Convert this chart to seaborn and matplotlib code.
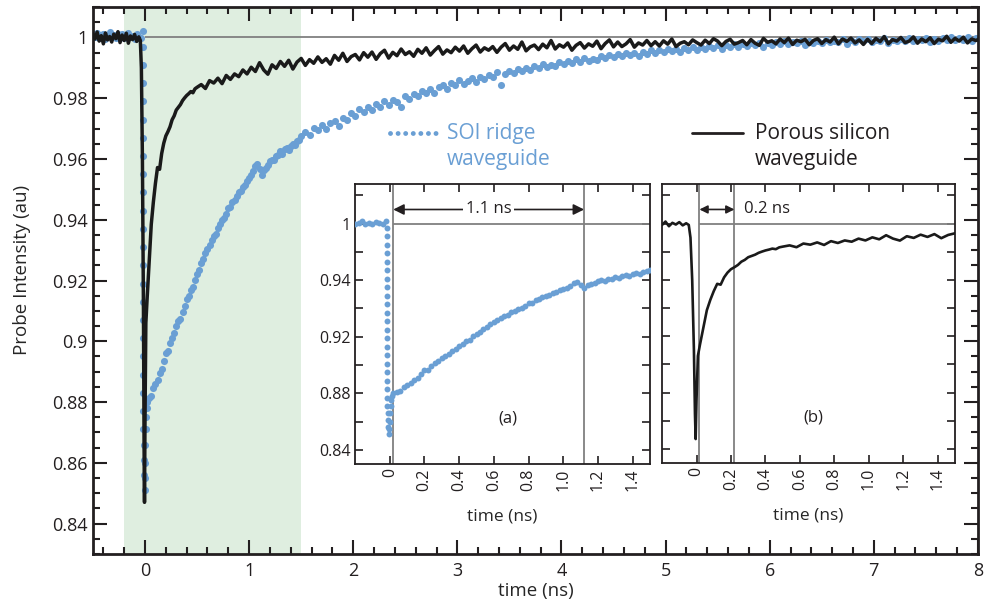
import matplotlib
matplotlib.use("Agg")
import matplotlib.pyplot as plt
import numpy as np
import pandas as pd
import seaborn as sns
from matplotlib.ticker import MultipleLocator, FixedLocator, FixedFormatter, FuncFormatter

BLUE = "#6a9fd4"
INK = "#231f20"
GREY = "#808080"

# ── Porous silicon waveguide (black trace) ─────────────────
# t = -0.50 .. -0.06, step 0.02
ps_pre = [1.0012, 0.9995, 1.0018, 0.9988, 1.0006, 0.9979, 1.0015, 0.9992, 1.0003, 0.9985,
          1.0011, 0.9996, 1.0019, 0.9983, 1.0008, 0.9990, 1.0014, 0.9981, 1.0005, 0.9993,
          1.0010, 0.9987, 1.0002]
ps_dip_t = [-0.045, -0.035, -0.025, -0.015, -0.009, -0.005, 0.0, 0.008]
ps_dip = [0.9990, 0.9900, 0.9600, 0.9100, 0.8650, 0.8470, 0.8750, 0.9060]
# t = 0.02 .. 0.50, step 0.02
ps_fast = [0.9140, 0.9262, 0.9385, 0.9458, 0.9520, 0.9572, 0.9566, 0.9618, 0.9652, 0.9676,
           0.9690, 0.9706, 0.9729, 0.9742, 0.9761, 0.9770, 0.9779, 0.9792, 0.9801, 0.9809,
           0.9815, 0.9822, 0.9818, 0.9831, 0.9836]
# t = 0.54 .. 8.02, step 0.04
ps_slow = [0.9845, 0.9832, 0.9858, 0.9850, 0.9866, 0.9848, 0.9875, 0.9862, 0.9880, 0.9871,
           0.9893, 0.9880, 0.9902, 0.9888, 0.9917, 0.9893, 0.9879, 0.9910, 0.9898, 0.9921,
           0.9905, 0.9925, 0.9896, 0.9919, 0.9931, 0.9908, 0.9927, 0.9915, 0.9936, 0.9918,
           0.9930, 0.9912, 0.9941, 0.9925, 0.9948, 0.9921, 0.9937, 0.9944, 0.9926, 0.9950,
           0.9935, 0.9952, 0.9928, 0.9947, 0.9958, 0.9932, 0.9951, 0.9940, 0.9962, 0.9944,
           0.9953, 0.9938, 0.9961, 0.9948, 0.9966, 0.9942, 0.9957, 0.9970, 0.9945, 0.9959,
           0.9950, 0.9968, 0.9955, 0.9972, 0.9948, 0.9963, 0.9975, 0.9952, 0.9966, 0.9958,
           0.9970, 0.9951, 0.9968, 0.9980, 0.9958, 0.9972, 0.9961, 0.9985, 0.9956, 0.9969,
           0.9975, 0.9960, 0.9978, 0.9966, 0.9990, 0.9962, 0.9976, 0.9968, 0.9982, 0.9958,
           0.9974, 0.9983, 0.9965, 0.9979, 0.9971, 0.9988, 0.9963, 0.9980, 0.9992, 0.9969,
           0.9985, 0.9970, 0.9979, 0.9993, 0.9968, 0.9982, 0.9975, 0.9990, 0.9973, 0.9986,
           0.9972, 0.9989, 0.9978, 0.9995, 0.9970, 0.9981, 0.9986, 0.9976, 0.9992, 0.9983,
           0.9975, 0.9991, 0.9980, 0.9996, 0.9988, 0.9973, 0.9987, 0.9994, 0.9978, 0.9983,
           0.9990, 0.9976, 0.9993, 0.9981, 0.9974, 0.9997, 0.9984, 0.9989, 0.9979, 0.9995,
           0.9983, 0.9998, 0.9977, 0.9991, 0.9986, 0.9994, 0.9976, 0.9990, 0.9996, 0.9980,
           0.9993, 0.9985, 1.0001, 0.9979, 0.9995, 0.9987, 0.9998, 0.9982, 0.9992, 0.9977,
           0.9994, 0.9980, 0.9997, 0.9986, 1.0003, 0.9979, 0.9993, 0.9988, 1.0000, 0.9983,
           0.9988, 1.0002, 0.9981, 0.9995, 0.9986, 0.9999, 0.9980, 0.9994, 0.9989, 1.0004,
           0.9984, 0.9997, 0.9988, 1.0001, 0.9982, 0.9995, 0.9990, 0.9996]

# ── SOI ridge waveguide (blue dots) ────────────────────────
# t = -0.50 .. -0.02, step 0.02
soi_pre = [1.0010, 1.0002, 1.0015, 0.9998, 1.0008, 1.0012, 0.9996, 1.0005, 1.0018, 1.0001,
           1.0009, 0.9997, 1.0013, 1.0004, 1.0011, 0.9999, 1.0007, 1.0016, 1.0000, 1.0006,
           0.9995, 1.0010, 1.0003, 0.9998, 1.0020]
soi_drop_t = [-0.015] * 22 + [-0.012, -0.010, -0.008, -0.005, -0.002, 0.001, 0.003, 0.006, 0.010, 0.015]
soi_drop = [0.997, 0.991, 0.985, 0.979, 0.973, 0.967, 0.961, 0.955, 0.949, 0.943, 0.937,
            0.931, 0.925, 0.919, 0.913, 0.907, 0.901, 0.895, 0.889, 0.883, 0.877, 0.871,
            0.866, 0.861, 0.856, 0.851, 0.855, 0.860, 0.866, 0.871, 0.875, 0.878]
# t = 0.02 .. 1.50, step 0.02
soi_fast = [0.8800, 0.8812, 0.8820, 0.8845, 0.8858, 0.8872, 0.8895, 0.8910, 0.8935, 0.8962,
            0.8968, 0.8995, 0.9012, 0.9028, 0.9052, 0.9066, 0.9075, 0.9098, 0.9115, 0.9138,
            0.9150, 0.9168, 0.9180, 0.9203, 0.9222, 0.9235, 0.9258, 0.9270, 0.9292, 0.9305,
            0.9318, 0.9332, 0.9345, 0.9352, 0.9372, 0.9385, 0.9398, 0.9405, 0.9420, 0.9438,
            0.9442, 0.9458, 0.9465, 0.9478, 0.9490, 0.9495, 0.9508, 0.9515, 0.9528, 0.9536,
            0.9548, 0.9562, 0.9578, 0.9585, 0.9568, 0.9548, 0.9565, 0.9572, 0.9580, 0.9592,
            0.9598, 0.9596, 0.9610, 0.9612, 0.9625, 0.9618, 0.9632, 0.9635, 0.9628, 0.9642,
            0.9650, 0.9645, 0.9658, 0.9662, 0.9675]
# t = 1.54 .. 8.02, step 0.04
soi_slow = [0.9690, 0.9678, 0.9702, 0.9695, 0.9712, 0.9700, 0.9718, 0.9725, 0.9710, 0.9735,
            0.9730, 0.9750, 0.9742, 0.9763, 0.9755, 0.9770, 0.9762, 0.9781, 0.9772, 0.9790,
            0.9778, 0.9795, 0.9788, 0.9772, 0.9806, 0.9798, 0.9815, 0.9808, 0.9823, 0.9816,
            0.9830, 0.9818, 0.9838, 0.9845, 0.9832, 0.9850, 0.9842, 0.9860, 0.9848, 0.9858,
            0.9865, 0.9852, 0.9870, 0.9862, 0.9878, 0.9871, 0.9885, 0.9842, 0.9880, 0.9890,
            0.9882, 0.9895, 0.9888, 0.9900, 0.9893, 0.9905, 0.9898, 0.9912, 0.9902, 0.9910,
            0.9906, 0.9918, 0.9912, 0.9922, 0.9915, 0.9928, 0.9919, 0.9932, 0.9924, 0.9930,
            0.9926, 0.9938, 0.9931, 0.9942, 0.9935, 0.9946, 0.9939, 0.9950, 0.9941, 0.9948,
            0.9940, 0.9952, 0.9946, 0.9958, 0.9949, 0.9960, 0.9953, 0.9962, 0.9955, 0.9963,
            0.9952, 0.9964, 0.9958, 0.9968, 0.9960, 0.9970, 0.9963, 0.9972, 0.9965, 0.9974,
            0.9962, 0.9974, 0.9968, 0.9978, 0.9970, 0.9980, 0.9972, 0.9982, 0.9974, 0.9983,
            0.9970, 0.9982, 0.9976, 0.9985, 0.9978, 0.9988, 0.9979, 0.9986, 0.9981, 0.9990,
            0.9975, 0.9987, 0.9981, 0.9990, 0.9983, 0.9992, 0.9984, 0.9989, 0.9986, 0.9994,
            0.9980, 0.9991, 0.9985, 0.9994, 0.9987, 0.9996, 0.9986, 0.9993, 0.9989, 0.9997,
            0.9983, 0.9993, 0.9988, 0.9996, 0.9989, 0.9998, 0.9990, 0.9995, 0.9991, 0.9999,
            0.9985, 0.9995, 0.9990, 0.9998, 0.9992, 1.0000, 0.9991, 0.9997, 0.9993, 1.0001,
            0.9988, 0.9998, 0.9994]

# inset labels (as printed on the original figure)
inset_y_ticks = [0.84, 0.86, 0.88, 0.90, 0.92, 0.94, 0.96, 0.98, 1.00, 1.02]
inset_a_y_labels = ["0.84", "", "0.88", "", "0.92", "", "0.94", "", "1", ""]
inset_x_ticks = [0.0, 0.2, 0.4, 0.6, 0.8, 1.0, 1.2, 1.4]
inset_x_labels = ["0", "0.2", "0.4", "0.6", "0.8", "1.0", "1.2", "1.4"]


def build_frame(parts):
    t, v = [], []
    for times, vals in parts:
        t.extend(list(times))
        v.extend(list(vals))
    return pd.DataFrame({"t": t, "v": v})


ps = build_frame([
    (-0.50 + 0.02 * np.arange(len(ps_pre)), ps_pre),
    (ps_dip_t, ps_dip),
    (0.02 + 0.02 * np.arange(len(ps_fast)), ps_fast),
    (0.54 + 0.04 * np.arange(len(ps_slow)), ps_slow),
])
soi = build_frame([
    (-0.50 + 0.02 * np.arange(len(soi_pre)), soi_pre),
    (soi_drop_t, soi_drop),
    (0.02 + 0.02 * np.arange(len(soi_fast)), soi_fast),
    (1.54 + 0.04 * np.arange(len(soi_slow)), soi_slow),
])

sns.set_theme(style="ticks")
plt.rcParams["font.family"] = ["Open Sans", "DejaVu Sans"]
plt.rcParams["text.color"] = INK
plt.rcParams["xtick.color"] = INK
plt.rcParams["ytick.color"] = INK
plt.rcParams["axes.edgecolor"] = INK

fig = plt.figure(figsize=(9.89, 6.05), dpi=100)

# ── Main panel ─────────────────────────────────────────────
ax = fig.add_axes([0.094, 0.0843, 0.8948, 0.904])
ax.axvspan(-0.2, 1.5, color="#dfeee0", lw=0, zorder=0)
ax.hlines(1.0, 0, 8, color=GREY, lw=1.3, zorder=1)
sns.scatterplot(data=soi, x="t", y="v", ax=ax, color=BLUE, s=26, linewidth=0,
                legend=False, zorder=2)
sns.lineplot(data=ps, x="t", y="v", ax=ax, color="#1a1a1a", lw=2.5,
             estimator=None, sort=False, zorder=3)

ax.set_xlim(-0.5, 8)
ax.set_ylim(0.83, 1.01)
ax.xaxis.set_major_locator(MultipleLocator(1))
ax.xaxis.set_minor_locator(MultipleLocator(0.2))
ax.yaxis.set_major_locator(MultipleLocator(0.02))
ax.yaxis.set_minor_locator(MultipleLocator(0.005))
fmt = FuncFormatter(lambda v, p: f"{v + 0:g}")
ax.xaxis.set_major_formatter(fmt)
ax.yaxis.set_major_formatter(fmt)
ax.tick_params(which="both", direction="in", top=True, right=True, width=1.5,
               labelsize=13)
ax.tick_params(which="major", length=10)
ax.tick_params(which="minor", length=5)
ax.tick_params(axis="y", pad=4)
ax.tick_params(axis="x", pad=6)
for s in ax.spines.values():
    s.set_linewidth(2)
ax.set_xlabel("time (ns)", fontsize=13.5)
ax.set_ylabel("Probe Intensity (au)", fontsize=13.5)
ax.xaxis.set_label_coords(0.5, -0.052)
ax.yaxis.set_label_coords(-0.07, 0.52)

# legend drawn by hand, two-line labels as in the figure
ax.plot([0.3356, 0.3955], [0.7697, 0.7697], transform=ax.transAxes, color=BLUE,
        lw=3.5, ls=(0, (0.01, 1.55)), dash_capstyle="round")
ax.text(0.400, 0.745, "SOI ridge\nwaveguide", transform=ax.transAxes, color=BLUE,
        fontsize=15, ha="left", va="center", linespacing=1.3)
ax.plot([0.6768, 0.7345], [0.7697, 0.7697], transform=ax.transAxes, color=INK, lw=2)
ax.text(0.748, 0.745, "Porous silicon\nwaveguide", transform=ax.transAxes, color=INK,
        fontsize=15, ha="left", va="center", linespacing=1.3)


# ── Insets ─────────────────────────────────────────────────
def style_inset(a, ylabels):
    a.set_facecolor("white")
    a.set_xlim(-0.2, 1.5)
    a.set_ylim(0.83, 1.028)
    a.xaxis.set_major_locator(FixedLocator(inset_x_ticks))
    a.xaxis.set_major_formatter(FixedFormatter(inset_x_labels))
    a.yaxis.set_major_locator(FixedLocator(inset_y_ticks))
    a.yaxis.set_major_formatter(FixedFormatter(ylabels))
    a.tick_params(which="both", direction="in", top=True, right=True, length=6,
                  width=1.2, labelsize=11.5)
    a.tick_params(axis="x", labelrotation=90, pad=3)
    a.tick_params(axis="y", pad=3)
    for s in a.spines.values():
        s.set_linewidth(1.3)
    a.set_xlabel("time (ns)", fontsize=12.5)
    a.set_ylabel("")
    a.xaxis.set_label_coords(0.5, -0.16)


axa = fig.add_axes([0.359, 0.233, 0.2983, 0.4628])
sns.scatterplot(data=soi, x="t", y="v", ax=axa, color=BLUE, s=18, linewidth=0,
                legend=False, zorder=3)
for xv in (0.02, 1.12):
    axa.axvline(xv, color=GREY, lw=1.3, zorder=1)
axa.hlines(1.0, 0.02, 1.5, color=GREY, lw=1.3, zorder=1)
axa.annotate("", xy=(0.02, 1.01), xytext=(1.12, 1.01),
             arrowprops=dict(arrowstyle="<|-|>", color=INK, lw=1.2,
                             mutation_scale=16, shrinkA=0, shrinkB=0))
axa.text(0.57, 1.01, "1.1 ns", ha="center", va="center", fontsize=12,
         bbox=dict(facecolor="white", edgecolor="none", pad=2))
axa.text(0.68, 0.862, "(a)", ha="center", va="center", fontsize=12)
style_inset(axa, inset_a_y_labels)

axb = fig.add_axes([0.6694, 0.2347, 0.2963, 0.461])
sns.lineplot(data=ps, x="t", y="v", ax=axb, color="#1a1a1a", lw=1.9,
             estimator=None, sort=False, zorder=3)
for xv in (0.017, 0.22):
    axb.axvline(xv, color=GREY, lw=1.3, zorder=1)
axb.hlines(1.0, 0.017, 1.5, color=GREY, lw=1.3, zorder=1)
axb.annotate("", xy=(0.017, 1.01), xytext=(0.22, 1.01),
             arrowprops=dict(arrowstyle="<|-|>", color=INK, lw=1.2,
                             mutation_scale=12, shrinkA=0, shrinkB=0))
axb.text(0.278, 1.01, "0.2 ns", ha="left", va="center", fontsize=12)
axb.text(0.68, 0.862, "(b)", ha="center", va="center", fontsize=12)
style_inset(axb, [""] * len(inset_y_ticks))

fig.savefig("out.png", dpi=100)
